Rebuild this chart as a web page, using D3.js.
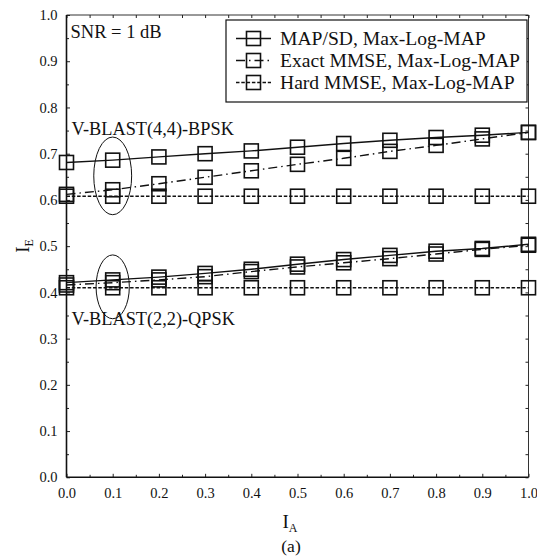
<!DOCTYPE html>
<html lang="en">
<head>
  <meta charset="UTF-8">
  <title>EXIT curves, SNR = 1 dB</title>
  <style>
    body { margin: 0; background: #fff; }
    svg text { font-family: "Liberation Serif", "Times New Roman", serif; fill: #111; }
  </style>
</head>
<body>
  <svg id="chart" width="537" height="557"></svg>

  <script src="https://cdn.jsdelivr.net/npm/d3@7"></script>
  <script>
    // I_A values (x axis)
    const ia = [0.0, 0.1, 0.2, 0.3, 0.4, 0.5, 0.6, 0.7, 0.8, 0.9, 1.0]

    // V-BLAST(4,4)-BPSK
    const bpskMap = [0.681, 0.686, 0.693, 0.700, 0.706, 0.714, 0.722, 0.729, 0.735, 0.740, 0.746]
    const bpskExact = [0.612, 0.622, 0.635, 0.649, 0.663, 0.677, 0.690, 0.705, 0.718, 0.732, 0.746]
    const bpskHard = [0.608, 0.608, 0.608, 0.608, 0.608, 0.608, 0.608, 0.608, 0.608, 0.608, 0.608]

    // V-BLAST(2,2)-QPSK
    const qpskMap = [0.421, 0.427, 0.433, 0.441, 0.450, 0.461, 0.471, 0.480, 0.489, 0.495, 0.504]
    const qpskExact = [0.416, 0.421, 0.427, 0.434, 0.445, 0.455, 0.464, 0.473, 0.483, 0.493, 0.502]
    const qpskHard = [0.410, 0.410, 0.410, 0.410, 0.410, 0.410, 0.410, 0.410, 0.410, 0.410, 0.410]

    // legend labels
    const legendLabels = ['MAP/SD, Max-Log-MAP', 'Exact MMSE, Max-Log-MAP', 'Hard MMSE, Max-Log-MAP']

    // ticks
    const majorTicks = [0.0, 0.1, 0.2, 0.3, 0.4, 0.5, 0.6, 0.7, 0.8, 0.9, 1.0]
    const minorTicks = [0.05, 0.15, 0.25, 0.35, 0.45, 0.55, 0.65, 0.75, 0.85, 0.95]

    // line styles per detector (solid, dash-dot, dashed)
    const dashes = [null, '9,4,1.5,4', '3.5,1.8']

    const margin = { top: 15, right: 8.5, bottom: 79.7, left: 66.5 }
    const width = 537 - margin.left - margin.right
    const height = 557 - margin.top - margin.bottom

    const svg = d3.select('#chart')
    const g = svg.append('g').attr('transform', `translate(${margin.left}, ${margin.top})`)

    const x = d3.scaleLinear().domain([0, 1]).range([0, width])
    const y = d3.scaleLinear().domain([0, 1]).range([height, 0])

    // frame: top and right thin
    g.append('line').attr('x1', 0).attr('x2', width).attr('y1', 0).attr('y2', 0)
      .attr('stroke', '#333').attr('stroke-width', 1)
    g.append('line').attr('x1', width).attr('x2', width).attr('y1', 0).attr('y2', height)
      .attr('stroke', '#333').attr('stroke-width', 1)

    // axes with ticks pointing inward
    const fmt = d3.format('.1f')
    const axisStyle = sel => {
      sel.select('.domain').remove()
      sel.selectAll('line').attr('stroke', '#222')
      sel.selectAll('text').attr('font-size', 14.5)
    }

    g.append('g').attr('transform', `translate(0, ${height})`)
      .call(d3.axisBottom(x).tickValues(majorTicks).tickFormat(fmt).tickSize(-3.5).tickPadding(10))
      .call(axisStyle)
    g.append('g').attr('transform', `translate(0, ${height})`)
      .call(d3.axisBottom(x).tickValues(minorTicks).tickFormat('').tickSize(-2.5))
      .call(axisStyle)
    g.append('g')
      .call(d3.axisLeft(y).tickValues(majorTicks).tickFormat(fmt).tickSize(-3.5).tickPadding(9))
      .call(axisStyle)
    g.append('g')
      .call(d3.axisLeft(y).tickValues(minorTicks).tickFormat('').tickSize(-2.5))
      .call(axisStyle)
    g.append('g')
      .call(d3.axisTop(x).tickValues(majorTicks.concat(minorTicks)).tickFormat('').tickSize(-3))
      .call(axisStyle)
    g.append('g').attr('transform', `translate(${width}, 0)`)
      .call(d3.axisRight(y).tickValues(majorTicks.concat(minorTicks)).tickFormat('').tickSize(-3))
      .call(axisStyle)

    // bottom and left axis lines, heavier
    g.append('line').attr('x1', 0).attr('x2', width).attr('y1', height).attr('y2', height)
      .attr('stroke', '#111').attr('stroke-width', 1.6)
    g.append('line').attr('x1', 0).attr('x2', 0).attr('y1', 0).attr('y2', height)
      .attr('stroke', '#111').attr('stroke-width', 1.6)

    // curves
    const series = [
      { values: bpskMap, style: 0 },
      { values: bpskExact, style: 1 },
      { values: bpskHard, style: 2 },
      { values: qpskMap, style: 0 },
      { values: qpskExact, style: 1 },
      { values: qpskHard, style: 2 }
    ]

    const line = d3.line().x(d => x(d[0])).y(d => y(d[1]))
    const sq = 14

    series.forEach(s => {
      const pts = ia.map((a, i) => [a, s.values[i]])
      g.append('path')
        .attr('d', line(pts))
        .attr('fill', 'none')
        .attr('stroke', '#111')
        .attr('stroke-width', 1.4)
        .attr('stroke-dasharray', dashes[s.style])
      g.selectAll(null)
        .data(pts)
        .enter()
        .append('rect')
        .attr('x', d => x(d[0]) - sq / 2)
        .attr('y', d => y(d[1]) - sq / 2)
        .attr('width', sq)
        .attr('height', sq)
        .attr('fill', 'none')
        .attr('stroke', '#111')
        .attr('stroke-width', 1.6)
    })

    // ellipses marking the 0.1 points
    g.append('ellipse')
      .attr('cx', x(0.1)).attr('cy', y(0.652))
      .attr('rx', x(0.041)).attr('ry', height - y(0.084))
      .attr('fill', 'none').attr('stroke', '#111').attr('stroke-width', 1)
    g.append('ellipse')
      .attr('cx', x(0.1)).attr('cy', y(0.412))
      .attr('rx', x(0.036)).attr('ry', height - y(0.069))
      .attr('fill', 'none').attr('stroke', '#111').attr('stroke-width', 1)

    // annotations
    svg.append('text').attr('x', 70.5).attr('y', 37.5).attr('font-size', 18.5).text('SNR = 1 dB')
    svg.append('text').attr('x', 71.5).attr('y', 135).attr('font-size', 18.3).text('V-BLAST(4,4)-BPSK')
    svg.append('text').attr('x', 71.5).attr('y', 324.5).attr('font-size', 18.3).text('V-BLAST(2,2)-QPSK')

    // legend
    const legend = svg.append('g')
    legend.append('rect')
      .attr('x', 226).attr('y', 20).attr('width', 301).attr('height', 82)
      .attr('fill', '#fff').attr('stroke', '#111').attr('stroke-width', 1.2)
    legendLabels.forEach((label, i) => {
      const cy = 38.5 + i * 22
      legend.append('line')
        .attr('x1', 236).attr('x2', 271).attr('y1', cy).attr('y2', cy)
        .attr('stroke', '#111').attr('stroke-width', 1.4)
        .attr('stroke-dasharray', dashes[i])
      legend.append('rect')
        .attr('x', 253.5 - sq / 2).attr('y', cy - sq / 2)
        .attr('width', sq).attr('height', sq)
        .attr('fill', 'none').attr('stroke', '#111').attr('stroke-width', 1.6)
      legend.append('text')
        .attr('x', 280).attr('y', cy + 6.5)
        .attr('font-size', 19.6)
        .text(label)
    })

    // axis titles
    const xt = svg.append('text')
      .attr('x', 290).attr('y', 528)
      .attr('text-anchor', 'middle')
      .attr('font-size', 19)
    xt.append('tspan').text('I')
    xt.append('tspan').attr('dy', 4).attr('font-size', 12).text('A')

    const yt = svg.append('text')
      .attr('transform', 'translate(29, 246) rotate(-90)')
      .attr('text-anchor', 'middle')
      .attr('font-size', 19)
    yt.append('tspan').text('I')
    yt.append('tspan').attr('dy', 4).attr('font-size', 12).text('E')

    svg.append('text')
      .attr('x', 291).attr('y', 552)
      .attr('text-anchor', 'middle')
      .attr('font-size', 17.5)
      .text('(a)')
  </script>
</body>
</html>
